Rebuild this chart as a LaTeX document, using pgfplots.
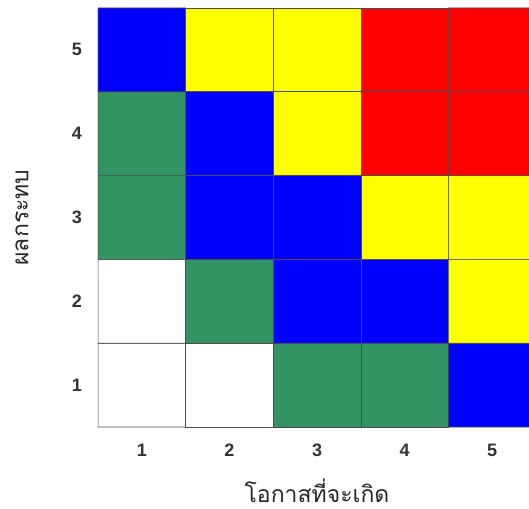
\documentclass[border=0pt]{standalone}
\usepackage{fontspec}
\setmainfont{Liberation Sans}
\newfontfamily\thaifont[Script=Thai]{Loma}
\usepackage{pgfplots}
\usepackage{pgfplotstable}
\pgfplotsset{compat=1.18}

% risk level of each cell: 0 white, 1 green, 2 blue, 3 yellow, 4 red
\pgfplotstableread{
x y c
1 1 0
2 1 0
3 1 1
4 1 1
5 1 2
1 2 0
2 2 1
3 2 2
4 2 2
5 2 3
1 3 1
2 3 2
3 3 2
4 3 3
5 3 3
1 4 1
2 4 2
3 4 3
4 4 4
5 4 4
1 5 2
2 5 3
3 5 3
4 5 4
5 5 4
}\riskdata

\begin{document}
\begin{tikzpicture}
  \begin{axis}[
      name=ax,
      x=87.6pt, y=83.8pt,
      xmin=0.5, xmax=5.42,
      ymin=0.5, ymax=5.5,
      axis line style={draw=none},
      major tick length=0pt,
      xtick={1,2,3,4,5},
      ytick={1,2,3,4,5},
      /pgf/number format/assume math mode=true,
      tick label style={font=\fontsize{18}{21}\selectfont\bfseries, text=black!80},
      xticklabel style={anchor=center, yshift=-23pt},
      yticklabel style={anchor=center, xshift=-21pt},
      xlabel={\thaifont โอกาสที่จะเกิด},
      ylabel={\thaifont ผลกระทบ},
      label style={font=\fontsize{23}{26}\selectfont, text=black!85, inner sep=0pt},
      xlabel style={at={(axis description cs:0.5081,0)}, anchor=center, yshift=-64pt},
      ylabel style={at={(axis description cs:0,0.5)}, anchor=center, yshift=76pt},
      colormap={risk}{rgb255=(255,255,255) rgb255=(50,148,98) rgb255=(0,0,255) rgb255=(255,255,0) rgb255=(255,0,0)},
      colormap access=direct,
    ]
    \addplot[matrix plot*, mesh/cols=5, point meta=explicit, draw=black!70, line width=0.6pt]
      table[x=x, y=y, meta=c] {\riskdata};
  \end{axis}
  \pgfresetboundingbox
  \path[use as bounding box] ([xshift=-98pt,yshift=-81pt]ax.south west) rectangle ([yshift=8pt]ax.north east);
\end{tikzpicture}
\end{document}
